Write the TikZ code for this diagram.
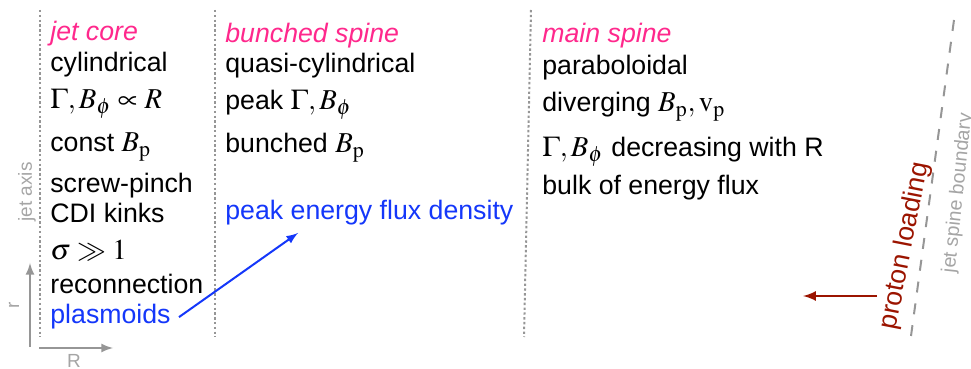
\documentclass[tikz,border=0pt]{standalone}
\usepackage{mathptmx}
\usepackage[no-math]{fontspec}
\setmainfont{Liberation Sans}
\usepackage{tikz}

\definecolor{headpink}{RGB}{255,40,140}
\definecolor{fluxblue}{RGB}{20,55,250}
\definecolor{loadred}{RGB}{155,20,0}
\definecolor{linegray}{RGB}{150,150,150}
\definecolor{labelgray}{RGB}{165,165,165}
\newcommand{\mathsz}{\fontsize{14.4}{16}\selectfont}

\begin{document}
\begin{tikzpicture}[x=0.5pt, y=-0.5pt, >=latex,
  every node/.style={font=\fontsize{13.35}{16}\selectfont, anchor=base west, inner sep=0pt},
  head/.style={headpink, font=\fontsize{13.35}{16}\selectfont\itshape},
  zone/.style={linegray, line width=1pt, dash pattern=on 1.2pt off 1.2pt},
  axislabel/.style={labelgray, anchor=center, font=\fontsize{9.5}{11}\selectfont}]
\useasboundingbox (0,0) rectangle (971,369);

\draw[zone] (40,10) -- (40,337);
\draw[zone] (215,10) -- (215,337);
\draw[zone] (531,10) -- (524,337);
\draw[linegray, line width=1pt, dash pattern=on 5.5pt off 5.5pt] (954,20) -- (911,336);

\node[head] (core) at (50,41) {jet core};
\node (cyl) at (50,72) {cylindrical};
\node (gcore) at (50,109) {\mathsz $\Gamma, B_\phi \propto R$};
\node (bcore) at (50,152) {const \mathsz $B_\mathrm{p}$};
\node (pinch) at (50,193) {screw-pinch};
\node (kinks) at (50,223) {CDI kinks};
\node (sigma) at (50,260) {\mathsz $\sigma \gg 1$};
\node (recon) at (50,293) {reconnection};
\node[fluxblue] (plasm) at (50,324) {plasmoids};

\node[head] (bunch) at (225,43) {bunched spine};
\node (qcyl) at (225,73) {quasi-cylindrical};
\node (gpeak) at (225,110) {peak \mathsz $\Gamma, B_\phi$};
\node (bbunch) at (225,153) {bunched \mathsz $B_\mathrm{p}$};
\node[fluxblue] (fluxpeak) at (225,220) {peak energy flux density};

\node[head] (mainsp) at (542,43) {main spine};
\node (parab) at (542,75) {paraboloidal};
\node (diverg) at (542,112) {diverging \mathsz $B_\mathrm{p}, \mathrm{v}_\mathrm{p}$};
\node (gdecr) at (542,157) {\mathsz $\Gamma, B_\phi$ \fontsize{13.35}{16}\selectfont decreasing with R};
\node (bulk) at (542,195) {bulk of energy flux};

\node[loadred, anchor=center, rotate=79] (proton) at (905,246) {proton loading};
\node[axislabel, rotate=84, font=\fontsize{9.8}{12}\selectfont] (boundary) at (958,193) {jet spine boundary};
\node[axislabel, rotate=90] (jetaxis) at (27,192) {jet axis};

\coordinate (origin) at (30,347);
\coordinate (rtip) at (30,263);
\coordinate (horig) at (39,348);
\coordinate (Rtip) at (113,348);
\node[axislabel, rotate=90] (rlabel) at (14,305) {r};
\node[axislabel] (Rlabel) at (74,361) {R};

\coordinate (fluxtip) at (298,233);
\coordinate (loadfoot) at (877,296);
\coordinate (loadtip) at (803,296);

\draw[->, linegray, line width=1pt] (origin) -- (rtip);
\draw[->, linegray, line width=1pt] (horig) -- (Rtip);
\draw[->, fluxblue, line width=1pt] ([xshift=4pt]plasm.east) -- (fluxtip);
\draw[->, loadred, line width=1.2pt] (loadfoot) -- (loadtip);
\end{tikzpicture}
\end{document}
